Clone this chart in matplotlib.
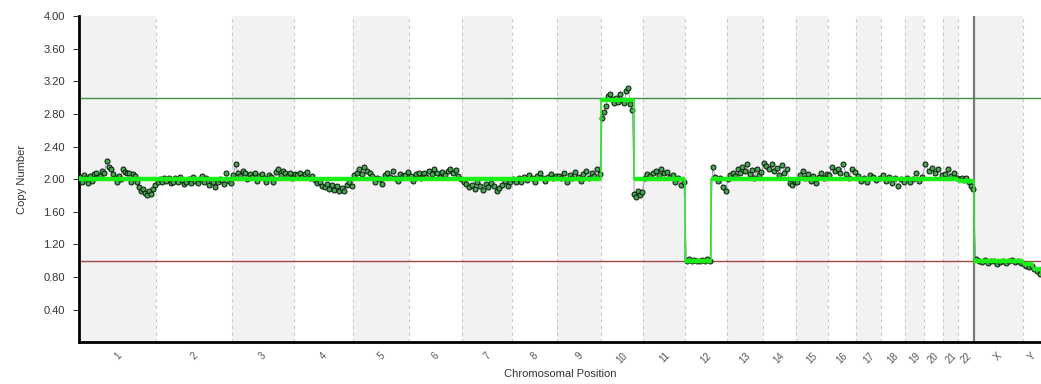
import matplotlib
matplotlib.use("Agg")
import matplotlib.pyplot as plt
import numpy as np

plt.rcParams['font.family'] = ['Liberation Sans', 'DejaVu Sans']

# Chromosome names and sizes (Mb, hg19)
chrom_names = [str(i) for i in range(1, 23)] + ["X", "Y"]
chrom_sizes = [249.25, 243.2, 198.0, 191.15, 180.9, 171.1, 159.1, 146.4,
               141.2, 135.5, 135.0, 133.85, 115.2, 107.35, 102.5, 90.35,
               81.2, 78.1, 59.1, 63.0, 48.1, 51.3, 155.3, 59.4]

# Probe-level copy number values per chromosome (evenly spread along each chromosome)
cn_1 = [2.03, 1.96, 2.05, 2.02, 1.95, 2.04, 1.98, 2.06, 2.08, 2.03, 2.04, 2.10, 2.07,
        2.22, 2.15, 2.12, 2.06, 2.02, 1.97, 2.04, 2.00, 2.13, 2.09, 2.07, 2.08, 1.96,
        2.06, 2.04, 1.97, 1.90, 1.86, 1.88, 1.83, 1.81, 1.85, 1.82, 1.88, 1.93]
cn_2 = [1.97, 2.00, 1.96, 2.01, 1.98, 2.01, 1.95, 1.97, 2.02, 1.96, 2.03, 1.99, 1.94,
        1.97, 2.00, 1.95, 2.03, 1.98, 1.95, 2.00, 2.04, 1.96, 2.01, 1.93, 1.98, 1.97,
        1.90, 1.96, 2.00, 1.99, 1.94, 2.07, 1.98, 1.95]
cn_3 = [2.05, 2.18, 2.08, 2.04, 2.10, 2.07, 2.00, 2.06, 2.03, 2.08, 1.98, 2.04, 2.06,
        2.02, 1.96, 2.05, 2.03, 1.96, 2.09, 2.12, 2.05, 2.10, 2.07, 2.04, 2.08, 2.02]
cn_4 = [2.06, 2.05, 2.08, 2.03, 2.06, 2.09, 2.02, 2.04, 1.99, 1.95, 1.97, 1.92, 1.90,
        1.94, 1.88, 1.93, 1.87, 1.91, 1.85, 1.89, 1.86, 1.93, 1.97, 1.92]
cn_5 = [2.05, 2.08, 2.12, 2.06, 2.15, 2.10, 2.07, 2.04, 1.97, 2.02, 2.00, 1.94, 2.05,
        2.08, 2.03, 2.10, 2.01, 1.98, 2.06, 2.04, 2.05, 2.09]
cn_6 = [2.04, 1.98, 2.06, 2.08, 2.02, 2.07, 2.03, 2.10, 2.06, 2.12, 2.08, 2.03, 2.09,
        2.05, 2.10, 2.13, 2.07, 2.11, 2.04, 2.00]
cn_7 = [1.97, 1.94, 1.90, 1.93, 1.88, 1.96, 1.92, 1.87, 1.94, 1.90, 1.95, 1.91, 1.86,
        1.89, 1.93, 1.98, 1.92, 1.96]
cn_8 = [2.00, 1.97, 2.02, 1.96, 2.03, 1.99, 2.05, 2.01, 1.97, 2.04, 2.07, 2.02, 1.98,
        2.03, 2.06, 2.01, 2.04]
cn_9 = [2.04, 2.02, 2.07, 1.97, 2.05, 2.01, 2.09, 2.03, 1.98, 2.06, 2.10, 2.02, 2.08,
        2.04, 2.12, 2.06]
cn_10 = [2.75, 2.82, 2.90, 3.02, 3.05, 2.98, 2.93, 3.00, 2.95, 3.04, 2.97, 2.94, 3.08,
         3.12, 2.92, 2.85, 1.82, 1.78, 1.85, 1.80, 1.84]
cn_11 = [2.02, 2.06, 2.04, 2.08, 2.10, 2.05, 2.12, 2.07, 2.09, 2.03, 2.05, 1.97, 2.01,
         1.93, 1.96]
cn_12 = [1.00, 1.02, 0.99, 1.01, 1.00, 0.99, 1.01, 1.00, 1.02, 1.00,
         2.15, 2.03, 1.98, 2.01, 1.90, 1.86]
cn_13 = [2.00, 2.05, 2.08, 2.04, 2.12, 2.07, 2.15, 2.10, 2.18, 2.06, 2.11, 2.02, 2.13,
         2.05, 2.09]
cn_14 = [2.20, 2.16, 2.12, 2.18, 2.10, 2.14, 2.05, 2.17, 2.08, 2.12, 1.95, 1.93, 1.97]
cn_15 = [1.96, 2.05, 2.10, 2.02, 2.06, 1.98, 2.04, 1.95, 2.03, 2.08, 2.01, 2.06]
cn_16 = [2.05, 2.15, 2.10, 2.12, 2.08, 2.18, 2.06, 2.02, 2.12, 2.09]
cn_17 = [2.04, 1.98, 2.02, 1.97, 2.05, 2.03, 1.99, 2.01]
cn_18 = [2.05, 1.98, 2.03, 1.95, 2.02, 1.92, 2.00, 1.97]
cn_19 = [2.02, 1.96, 2.00, 2.07, 1.98, 2.03]
cn_20 = [2.18, 2.10, 2.14, 2.08, 2.12, 2.05]
cn_21 = [2.06, 2.12, 2.04, 2.08, 2.02]
cn_22 = [2.00, 2.02, 1.99, 2.01, 1.96, 1.92, 1.88]
cn_X = [1.02, 1.00, 0.98, 1.01, 0.97, 0.99, 1.00, 0.96, 0.98, 1.00, 0.97, 0.99, 1.01,
        0.98, 1.00, 0.97]
cn_Y = [0.96, 0.94, 0.92, 0.93, 0.90, 0.87, 0.84]

probe_values = [cn_1, cn_2, cn_3, cn_4, cn_5, cn_6, cn_7, cn_8, cn_9, cn_10, cn_11, cn_12,
                cn_13, cn_14, cn_15, cn_16, cn_17, cn_18, cn_19, cn_20, cn_21, cn_22,
                cn_X, cn_Y]

# Segmented calls: (chromosome, start fraction, end fraction, copy number)
seg_chrom = ["1", "2", "3", "4", "5", "6", "7", "8", "9", "10", "10", "11", "12", "12",
             "13", "14", "15", "16", "17", "18", "19", "20", "21", "22", "X", "Y", "Y"]
seg_start = [0, 0, 0, 0, 0, 0, 0, 0, 0, 0, 0.77, 0, 0, 0.625,
             0, 0, 0, 0, 0, 0, 0, 0, 0, 0, 0, 0, 0.55]
seg_end = [1, 1, 1, 1, 1, 1, 1, 1, 1, 0.77, 1, 1, 0.625, 1,
           1, 1, 1, 1, 1, 1, 1, 1, 1, 1, 1, 0.55, 1]
seg_value = [2.0, 2.0, 2.0, 2.0, 2.0, 2.0, 2.0, 2.0, 2.0, 2.97, 2.0, 2.0, 1.0, 2.0,
             2.0, 2.0, 2.0, 2.0, 2.0, 2.0, 2.0, 2.0, 2.0, 1.98, 0.99, 0.96, 0.90]

y_ticks = [0.40, 0.80, 1.20, 1.60, 2.00, 2.40, 2.80, 3.20, 3.60, 4.00]

sizes = np.array(chrom_sizes)
starts = np.concatenate([[0], np.cumsum(sizes)[:-1]])
ends = starts + sizes
centers = starts + sizes / 2
total = ends[-1]
idx = {n: i for i, n in enumerate(chrom_names)}

fig = plt.figure(figsize=(10.41, 3.84), dpi=100)
ax = fig.add_axes([0.0759, 0.109, 0.9241, 0.849])

# Alternating chromosome bands and boundaries
for i in range(len(chrom_names)):
    if i % 2 == 0:
        ax.axvspan(starts[i], ends[i], color="#f2f2f2", lw=0, zorder=0)
    if i < len(chrom_names) - 1:
        if chrom_names[i + 1] == "X":
            ax.axvline(ends[i], color="#7a7a7a", lw=1.6, zorder=1)
        else:
            ax.axvline(ends[i], color="#c8c8c8", lw=0.8, ls=(0, (3, 3)), zorder=1)

# Reference levels
ax.axhline(3.0, color="#3f8f48", lw=1.0, zorder=2)
ax.axhline(1.0, color="#a14848", lw=1.0, zorder=2)

# Probes
xs, ys = [], []
for i, vals in enumerate(probe_values):
    n = len(vals)
    pos = starts[i] + (np.arange(n) + 0.5) / n * sizes[i]
    xs.extend(pos)
    ys.extend(vals)
ax.plot(xs, ys, color="#9090b0", lw=0.6, zorder=3)
ax.plot(xs, ys, ls="none", marker="o", ms=3.6, mfc="#3fa84a", mec="#111111",
        mew=0.7, zorder=4)

# Segment step line
seg_x0 = [starts[idx[c]] + f * sizes[idx[c]] for c, f in zip(seg_chrom, seg_start)]
seg_x1 = [starts[idx[c]] + f * sizes[idx[c]] for c, f in zip(seg_chrom, seg_end)]
for k in range(len(seg_value)):
    ax.plot([seg_x0[k], seg_x1[k]], [seg_value[k], seg_value[k]], color="#18f018",
            lw=3.2, solid_capstyle="butt", zorder=5)
    if k + 1 < len(seg_value) and abs(seg_value[k + 1] - seg_value[k]) > 0.02:
        ax.plot([seg_x1[k], seg_x0[k + 1]], [seg_value[k], seg_value[k + 1]],
                color="#30e030", lw=1.2, zorder=5)
ax.plot([seg_x1[-1], seg_x1[-1]], [seg_value[-1], 0.82], color="#30e030", lw=1.2, zorder=5)

ax.set_xlim(0, total)
ax.set_ylim(0, 4.0)
ax.set_yticks(y_ticks)
ax.set_yticklabels([f"{v:.2f}" for v in y_ticks], fontsize=8, color="#333333")
ax.set_xticks(centers)
ax.set_xticklabels(chrom_names, rotation=45, fontsize=7, color="#555555",
                   ha="center", va="top")
ax.tick_params(axis="x", length=0, pad=6)
ax.tick_params(axis="y", length=4, width=0.6, pad=6)

for s in ["top", "right"]:
    ax.spines[s].set_visible(False)
ax.spines["left"].set_linewidth(2)
ax.spines["bottom"].set_linewidth(2)

ax.set_xlabel("Chromosomal Position", fontsize=8, color="#333333", labelpad=3)
ax.set_ylabel("Copy Number", fontsize=8, color="#333333", labelpad=12)

fig.savefig("out.png", dpi=100)
